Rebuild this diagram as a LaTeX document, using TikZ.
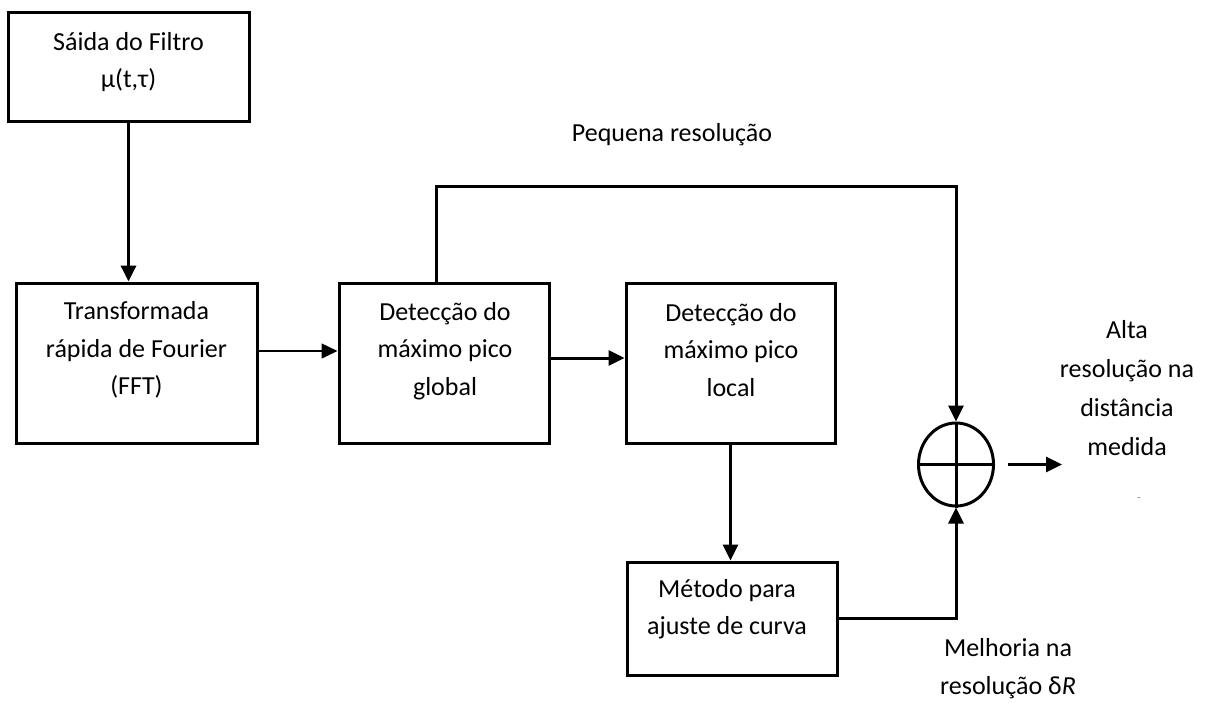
\documentclass[tikz,border=0pt]{standalone}
\usepackage{fontspec}
\setmainfont{Carlito}
\usetikzlibrary{arrows.meta,shapes.geometric}
\tikzset{
  box/.style={draw, line width=3pt, inner sep=0pt, rectangle},
  txt/.style={align=center, inner sep=0pt, font=\fontsize{26pt}{37.5pt}\selectfont},
  con/.style={line width=3pt},
  arr/.style={line width=3pt, -{Triangle[length=16pt,width=15pt]}},
  thinarr/.style={line width=1.5pt, -{Triangle[length=16pt,width=15pt]}},
}
\begin{document}
\begin{tikzpicture}[x=1pt,y=-1pt]
\useasboundingbox (0,0) rectangle (1214,702);
% boxes
\node[box, minimum width=241pt, minimum height=109pt] (b1) at (128.5,66.5) {};
\node[txt] (t1) at (128.5,62) {Sáida do Filtro\\μ(t,τ)};
\node[box, minimum width=241pt, minimum height=160pt] (b2) at (136.5,363) {};
\node[txt] (t2) at (136.5,350) {Transformada\\rápida de Fourier\\(FFT)};
\node[box, minimum width=210pt, minimum height=160pt] (b3) at (444,363) {};
\node[txt] (t3) at (445,351) {Detecção do\\máximo pico\\global};
\node[box, minimum width=209pt, minimum height=160pt] (b4) at (730.5,363) {};
\node[txt] (t4) at (731,350) {Detecção do\\máximo pico\\local};
\node[box, minimum width=210pt, minimum height=113pt] (b5) at (732,618.5) {};
\node[txt] (t5) at (727,609) {Método para\\ajuste de curva};
% summing junction
\node[ellipse, draw, line width=3pt, minimum width=75pt, minimum height=83pt, inner sep=0pt] (c) at (956,464.5) {};
\draw[line width=3pt] (c.west) -- (c.east);
\draw[line width=3pt] (c.north) -- (c.south);
% labels
\node[txt] (lp) at (672,135) {Pequena resolução};
\node[txt, font=\fontsize{26pt}{39pt}\selectfont] (la) at (1127,388.5) {Alta\\resolução na\\distância\\medida};
\node[txt, text=black!45, font=\fontsize{12pt}{14pt}\selectfont] (ld) at (1139,500) {-};
\node[txt, font=\fontsize{26pt}{38pt}\selectfont] (lm) at (1008,669) {Melhoria na\\resolução δ\textit{R}};
% connectors
\coordinate (topy) at (700,186);
\coordinate (out) at (1062,464.5);
\draw[arr, line width=3.5pt] (b1.south) -- (b1.south |- b2.north);
\draw[thinarr] ([yshift=12pt]b2.east) -- ([yshift=12pt]b2.east -| b3.west);
\draw[arr] ([yshift=5pt]b3.east) -- ([yshift=5pt]b3.east -| b4.west);
\draw[arr] (b4.south) -- (b4.south |- b5.north);
\draw[arr] ([xshift=-8pt]b3.north) |- (topy) -| (c.north);
\draw[arr] (b5.east) -| (c.south);
\draw[arr] ([xshift=13pt]c.east) -- (out);
\end{tikzpicture}
\end{document}
